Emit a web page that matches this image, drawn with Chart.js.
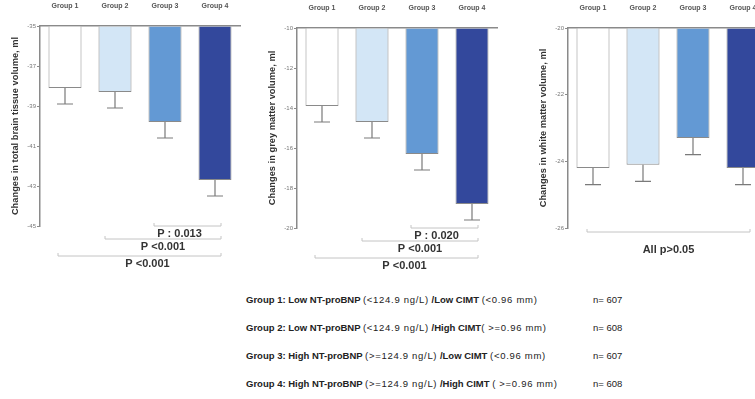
<!doctype html>
<html lang="en">
  <head>
    <meta charset="UTF-8">
    <title>Brain volume changes by NT-proBNP / CIMT group</title>
    <style>
      body { margin: 0; width: 755px; height: 399px; overflow: hidden; background: #fff; position: relative;
             font-family: "Liberation Sans", Arial, sans-serif; color: #222; }
      .panel { position: absolute; width: 250px; height: 285px; }
      #legend { position: absolute; left: 246px; top: 293px; }
      .row { position: relative; height: 28px; line-height: 14px; font-size: 9.5px; font-weight: bold; white-space: nowrap; }
      .row .paren { font-size: 9.5px; font-weight: normal; letter-spacing: 0.7px; }
      .row .n { position: absolute; left: 347px; top: 0; font-weight: normal; font-size: 9.5px; }
    </style>
  </head>
  <body>
    <div class="panel" style="left:0px; top:0px;"><canvas id="totalChart"></canvas></div>
    <div class="panel" style="left:257px; top:2px;"><canvas id="greyChart"></canvas></div>
    <div class="panel" style="left:528px; top:2px;"><canvas id="whiteChart"></canvas></div>
    <div id="legend"></div>

    <script src="https://cdn.jsdelivr.net/npm/chart.js@4.4.1/dist/chart.umd.min.js"></script>
    <script>
    // Data-----
    const groups = ['Group 1', 'Group 2', 'Group 3', 'Group 4'];
    const groupColors = ['#ffffff', '#d3e6f6', '#6399d4', '#33489c'];

    const totalBrain = [-38.1, -38.3, -39.8, -42.7];
    const totalBrainErr = [0.8, 0.8, 0.8, 0.8];
    const greyMatter = [-13.9, -14.7, -16.3, -18.8];
    const greyMatterErr = [0.8, 0.8, 0.8, 0.8];
    const whiteMatter = [-24.2, -24.1, -23.3, -24.2];
    const whiteMatterErr = [0.5, 0.5, 0.5, 0.5];

    // comparisons: [from group index, to group index, label]
    const totalBrainP = [[2, 3, 'P : 0.013'], [1, 3, 'P <0.001'], [0, 3, 'P <0.001']];
    const greyMatterP = [[2, 3, 'P : 0.020'], [1, 3, 'P <0.001'], [0, 3, 'P <0.001']];
    const whiteMatterP = [[0, 3, 'All p>0.05']];

    const legendLabels = [
      'Group 1: Low NT-proBNP (<124.9 ng/L) /Low CIMT (<0.96 mm)',
      'Group 2: Low NT-proBNP (<124.9 ng/L) /High CIMT( >=0.96 mm)',
      'Group 3: High NT-proBNP (>=124.9 ng/L) /Low CIMT (<0.96 mm)',
      'Group 4: High NT-proBNP (>=124.9 ng/L) /High CIMT ( >=0.96 mm)'
    ];
    const groupSizes = [607, 608, 607, 608];
    // Data-----

    const axisGrey = '#8a8a8a';

    // error bars hanging below each bar
    const errorBars = {
      id: 'errorBars',
      afterDatasetsDraw(chart, args, opts) {
        const {ctx, scales: {x, y}} = chart;
        ctx.save();
        ctx.strokeStyle = '#7a7a7a';
        ctx.lineWidth = 1.2;
        opts.values.forEach((v, i) => {
          const px = x.getPixelForValue(i);
          const y0 = y.getPixelForValue(v);
          const y1 = y.getPixelForValue(v - opts.errors[i]);
          ctx.beginPath();
          ctx.moveTo(px, y0); ctx.lineTo(px, y1);
          ctx.moveTo(px - 8, y1); ctx.lineTo(px + 8, y1);
          ctx.stroke();
        });
        ctx.restore();
      }
    };

    // significance brackets under the plot
    const brackets = {
      id: 'brackets',
      afterDraw(chart, args, opts) {
        const {ctx, chartArea, scales: {x}} = chart;
        ctx.save();
        opts.items.forEach((b, k) => {
          const x0 = x.getPixelForValue(b[0]) + opts.left[k];
          const x1 = x.getPixelForValue(b[1]) + opts.right;
          const by = chartArea.bottom + opts.levels[k];
          ctx.strokeStyle = '#c4c4c4';
          ctx.lineWidth = 1;
          ctx.beginPath();
          ctx.moveTo(x0, by - 3); ctx.lineTo(x0, by); ctx.lineTo(x1, by); ctx.lineTo(x1, by - 3);
          ctx.stroke();
          ctx.fillStyle = '#333';
          ctx.font = 'bold ' + opts.fontSize + 'px "Liberation Sans", Arial, sans-serif';
          ctx.textAlign = 'center';
          ctx.textBaseline = 'middle';
          ctx.fillText(b[2], (x0 + x1) / 2 + opts.shift[k], by + opts.textGap);
        });
        ctx.restore();
      }
    };

    function makePanel(id, values, errors, min, max, title, pItems, bracketOpts) {
      return new Chart(document.getElementById(id), {
        type: 'bar',
        data: {
          labels: groups,
          datasets: [{
            data: values,
            base: max,
            backgroundColor: groupColors,
            borderColor: axisGrey,
            borderWidth: 1,
            categoryPercentage: 1,
            barPercentage: 0.66
          }]
        },
        options: {
          animation: false,
          responsive: true,
          maintainAspectRatio: false,
          layout: { padding: { top: 0, right: 10, bottom: 59, left: 0 } },
          plugins: {
            legend: { display: false },
            tooltip: { enabled: false },
            errorBars: { values: values, errors: errors },
            brackets: Object.assign({ items: pItems }, bracketOpts)
          },
          scales: {
            x: {
              position: 'top',
              grid: { display: false },
              border: { display: true, color: axisGrey, width: 1.5 },
              ticks: { color: '#555', padding: 8, font: { size: 7, weight: 'bold', family: '"Liberation Sans", Arial' } },
              afterFit: s => { s.height = 26; }
            },
            y: {
              min: min,
              max: max,
              ticks: { stepSize: 2, color: '#777', padding: 1, font: { size: 6, family: '"Liberation Sans", Arial' } },
              grid: { drawOnChartArea: false, drawTicks: true, tickLength: 3, color: axisGrey },
              border: { display: true, color: axisGrey, width: 1.5 },
              title: { display: true, text: title, color: '#333', padding: { top: 10, bottom: 0 },
                       font: { size: 9.3, weight: 'bold', family: '"Liberation Sans", Arial' } },
              afterFit: s => { s.width = 40; }
            }
          }
        },
        plugins: [errorBars, brackets]
      });
    }

    makePanel('totalChart', totalBrain, totalBrainErr, -45, -35,
      'Changes in total brain tissue volume, ml', totalBrainP,
      { left: [-11, -10, -7], right: 6, levels: [0, 13, 30], textGap: 8, fontSize: 11, shift: [-8, 0, 8] });
    makePanel('greyChart', greyMatter, greyMatterErr, -20, -10,
      'Changes in grey matter volume, ml', greyMatterP,
      { left: [-11, -10, -7], right: 6, levels: [0, 13, 30], textGap: 8, fontSize: 11, shift: [-8, 0, 8] });
    makePanel('whiteChart', whiteMatter, whiteMatterErr, -26, -20,
      'Changes in white matter volume, ml', whiteMatterP,
      { left: [-6], right: 7, levels: [4], textGap: 18, fontSize: 11, shift: [0] });

    // group definitions below the charts
    const legend = document.getElementById('legend');
    legendLabels.forEach((txt, i) => {
      const row = document.createElement('div');
      row.className = 'row';
      row.innerHTML = txt.replace(/</g, '&lt;').replace(/>/g, '&gt;')
        .replace(/\([^)]*\)/g, m => '<span class="paren">' + m + '</span>') +
        '<span class="n">n= ' + groupSizes[i] + '</span>';
      legend.appendChild(row);
    });
    </script>
  </body>
</html>
